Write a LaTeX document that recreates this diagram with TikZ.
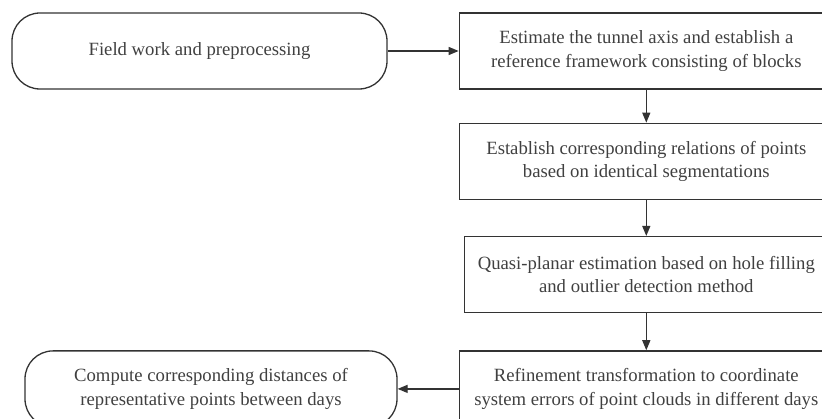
\documentclass[tikz,border=0pt]{standalone}
\usepackage{fontspec}
\setmainfont{Liberation Serif}
\usetikzlibrary{arrows.meta, positioning}

\begin{document}
\begin{tikzpicture}[x=1pt, y=-1pt, >={Triangle[length=10pt, width=8pt]},
		every node/.style={font=\fontsize{18.7}{23.5}\selectfont, text=black!75, align=center},
		stepbox/.style={draw=black!80, line width=1.3pt, minimum width=374pt, minimum height=76pt, inner sep=0pt},
		termbox/.style={stepbox, rounded corners=28pt},
		link/.style={->, draw=black!80, line width=1.3pt}]
		\clip (0,0) rectangle (822,419);
		
		\node[termbox, minimum width=375pt] (field) at (199.5,51) {Field work and preprocessing};
		\node[stepbox] (axis) [right=71pt of field] {Estimate the tunnel axis and establish a\\reference framework consisting of blocks};
		\node[stepbox] (segm) [below=33pt of axis] {Establish corresponding relations of points\\based on identical segmentations};
		\node[stepbox, minimum width=364pt] (plane) [below=36pt of segm] {Quasi-planar estimation based on hole filling\\and outlier detection method};
		\node[stepbox] (refine) [below=37pt of plane] {Refinement transformation to coordinate\\system errors of point clouds in different days};
		\node[termbox, minimum width=372pt] (dist) [left=61pt of refine] {Compute corresponding distances of\\representative points between days};
		
		\draw[link] (field) -- (axis);
		\draw[link] (axis) -- (segm);
		\draw[link] (segm) -- (plane);
		\draw[link] (plane) -- (refine);
		\draw[link] (refine) -- (dist);
	\end{tikzpicture}
\end{document}
